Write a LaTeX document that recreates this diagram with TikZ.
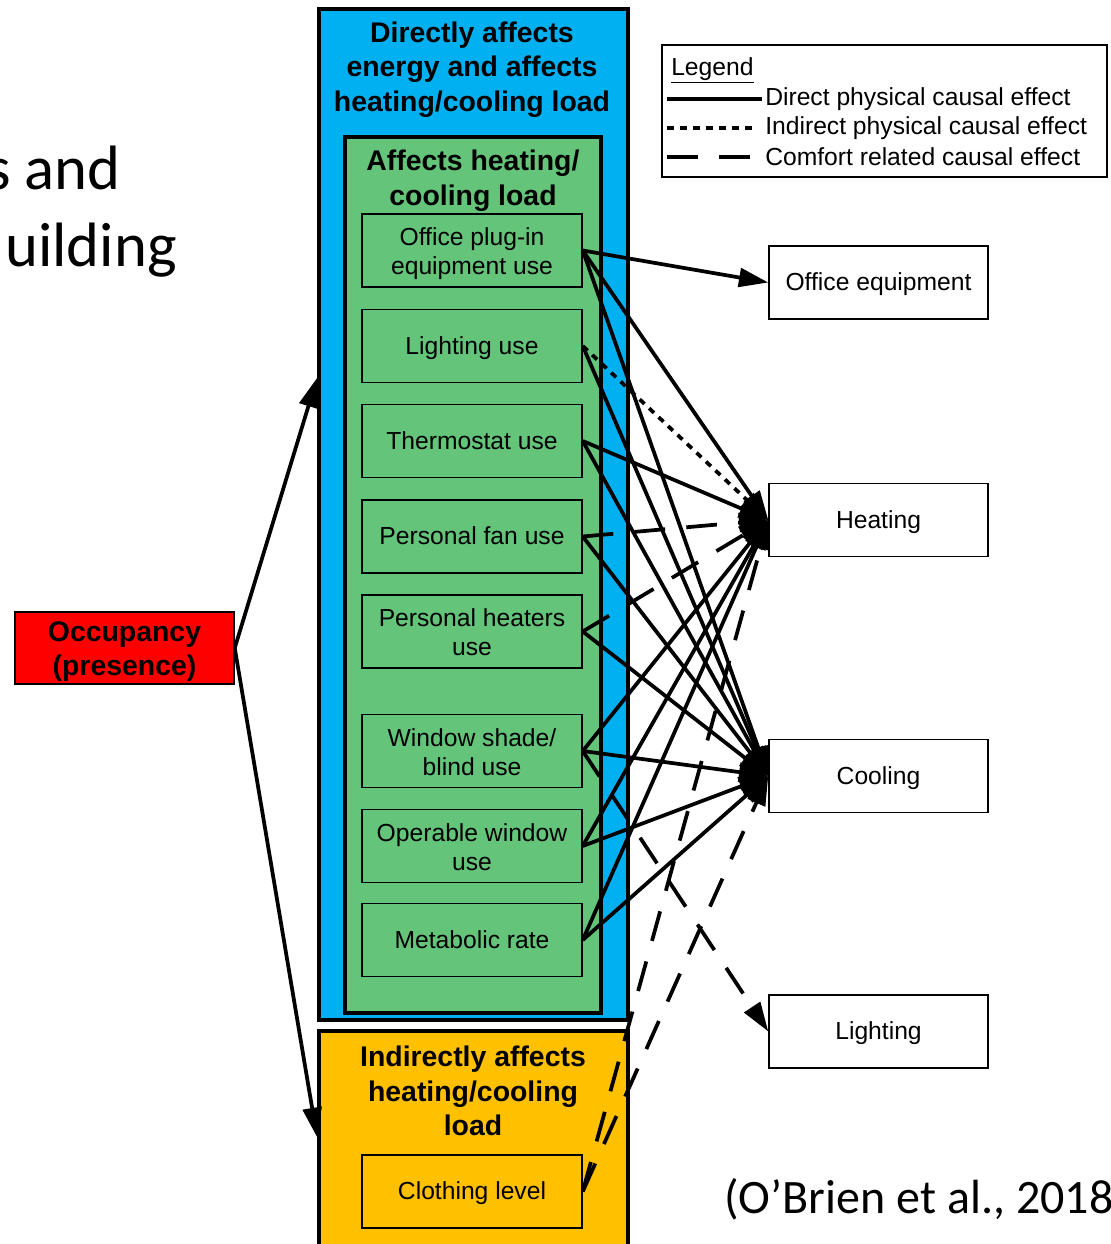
\documentclass[tikz,border=0pt]{standalone}
\usepackage{fontspec}
\setmainfont{Liberation Sans}
\newfontfamily\calibrifont{Carlito}
\usetikzlibrary{arrows.meta}
\definecolor{bluebg}{RGB}{0,176,240}
\definecolor{greenbg}{RGB}{99,196,122}
\definecolor{yellowbg}{RGB}{255,192,0}
\definecolor{redbg}{RGB}{255,0,0}
\newcommand\myboxstrut{\rule[-3.7pt]{0pt}{19.7pt}}
\newcommand\mytwostrut{\rule{0pt}{18pt}}
\newcommand\myoccstrut{\rule{0pt}{20.3pt}}
\begin{document}
\begin{tikzpicture}[x=0.75pt,y=-0.75pt,
  bigbox/.style={draw, line width=3pt, inner sep=0pt},
  titletext/.style={align=center, inner sep=0pt, font=\fontsize{21.3}{25.9}\selectfont\bfseries},
  smallbox/.style={draw, line width=1.1pt, minimum width=165pt, minimum height=54.75pt, inner sep=0pt, align=center, font=\fontsize{18.5}{21.75}\selectfont,
    execute at begin node=\myboxstrut, execute at end node=\myboxstrut},
  occbox/.style={draw, line width=1.1pt, minimum width=164.25pt, minimum height=54pt, inner sep=0pt, align=center, font=\fontsize{21.3}{25.5}\selectfont\bfseries},
  conn/.style={line width=2.8pt},
  tip/.style={-{Triangle[length=22pt,width=14pt]}},
  dotline/.style={dash pattern=on 5pt off 4.75pt},
  comfort/.style={dash pattern=on 23pt off 16pt},
  legendtext/.style={anchor=west, inner sep=0pt, font=\fontsize{18.5}{21}\selectfont}
]
\useasboundingbox (0,0) rectangle (1110,1244);
\clip (0,0) rectangle (1110,1244);

% cut-off slide texts
\node[anchor=base east, inner sep=0pt, font=\calibrifont\fontsize{47}{56}\selectfont] (slidea) at (121,190) {s and};
\node[anchor=base east, inner sep=0pt, font=\calibrifont\fontsize{47}{56}\selectfont] (slideb) at (177,267) {uilding};
\node[anchor=base west, inner sep=0pt, font=\calibrifont\fontsize{36}{43}\selectfont] (cite) at (724,1213) {(O’Brien et al., 2018};

% big boxes
\node[bigbox, fill=bluebg, minimum width=231.75pt, minimum height=757.9pt] (blue) at (473,514.75) {};
\node[bigbox, fill=greenbg, minimum width=192pt, minimum height=657pt] (green) at (472.5,575) {};
\node[bigbox, fill=yellowbg, minimum width=231.75pt, minimum height=179.25pt] (yellow) at (473,1150.5) {};

\node[titletext] (bluetitle) at (472,69.5) {Directly affects\\energy and affects\\heating/cooling load};
\node[titletext] (greentitle) at (473,180.5) {Affects heating/\\cooling load};
\node[titletext] (yellowtitle) at (473,1091) {Indirectly affects\\heating/cooling\\load};

% small boxes
\node[smallbox, fill=greenbg] (off) at (472,250.5) {\mytwostrut Office plug-in\\equipment use};
\node[smallbox, fill=greenbg] (light) at (472,346) {Lighting use};
\node[smallbox, fill=greenbg] (thermo) at (472,441) {Thermostat use};
\node[smallbox, fill=greenbg] (fan) at (472,536.5) {Personal fan use};
\node[smallbox, fill=greenbg] (heaters) at (472,631.5) {\mytwostrut Personal heaters\\use};
\node[smallbox, fill=greenbg] (shade) at (472,751) {\mytwostrut Window shade/\\blind use};
\node[smallbox, fill=greenbg] (opwin) at (472,846) {\mytwostrut Operable window\\use};
\node[smallbox, fill=greenbg] (metab) at (472,940) {Metabolic rate};
\node[smallbox, fill=yellowbg] (cloth) at (472,1191.5) {Clothing level};

% occupancy
\node[occbox, fill=redbg] (occ) at (124.5,648) {\myoccstrut Occupancy\\(presence)};

% right boxes
\node[smallbox, fill=white, minimum width=164.25pt] (oe) at (878.5,282.5) {Office equipment};
\node[smallbox, fill=white, minimum width=164.25pt] (heat) at (878.5,520) {Heating};
\node[smallbox, fill=white, minimum width=164.25pt] (cool) at (878.5,776) {Cooling};
\node[smallbox, fill=white, minimum width=164.25pt] (lightout) at (878.5,1031.5) {Lighting};

% legend
\node[draw, line width=1.1pt, minimum width=333.75pt, minimum height=99pt, inner sep=0pt] (legend) at (884.5,111) {};
\node[anchor=west, inner sep=0pt, font=\fontsize{18.5}{21}\selectfont] (legtitle) at (671,70) {\underline{Legend}};
\draw[conn] (667,99) -- (762,99);
\draw[conn, dotline] (667,128) -- (758,128);
\draw[conn, comfort] (667,157) -- (757,157);
\node[legendtext] (leg1) at (765,99) {Direct physical causal effect};
\node[legendtext] (leg2) at (765,128) {Indirect physical causal effect};
\node[legendtext] (leg3) at (765,157) {Comfort related causal effect};

% occupancy arrows
\coordinate (blueleft) at (317,378);
\coordinate (yellowleft) at (317,1137);
\draw[conn, tip] (occ.east) -- (blueleft);
\draw[conn, tip] (occ.east) -- (yellowleft);

% connectors
\draw[conn, tip] (off.east) -- (oe.west);
\draw[conn, tip] (off.east) -- (heat.west);
\draw[conn, tip] (off.east) -- (cool.west);
\draw[conn, tip, dotline] (light.east) -- (heat.west);
\draw[conn, tip] (light.east) -- (cool.west);
\draw[conn, tip] (thermo.east) -- (heat.west);
\draw[conn, tip] (thermo.east) -- (cool.west);
\draw[conn, tip, comfort] (fan.east) -- (heat.west);
\draw[conn, tip] (fan.east) -- (cool.west);
\draw[conn, tip, comfort] (heaters.east) -- (heat.west);
\draw[conn, tip] (heaters.east) -- (cool.west);
\draw[conn, tip] (shade.east) -- (heat.west);
\draw[conn, tip] (shade.east) -- (cool.west);
\draw[conn, tip, comfort] (shade.east) -- (lightout.west);
\draw[conn, tip] (opwin.east) -- (heat.west);
\draw[conn, tip] (opwin.east) -- (cool.west);
\draw[conn, tip] (metab.east) -- (heat.west);
\draw[conn, tip] (metab.east) -- (cool.west);
\draw[conn, tip, comfort] (cloth.east) -- (heat.west);
\draw[conn, tip, comfort] (cloth.east) -- (cool.west);
\end{tikzpicture}
\end{document}
